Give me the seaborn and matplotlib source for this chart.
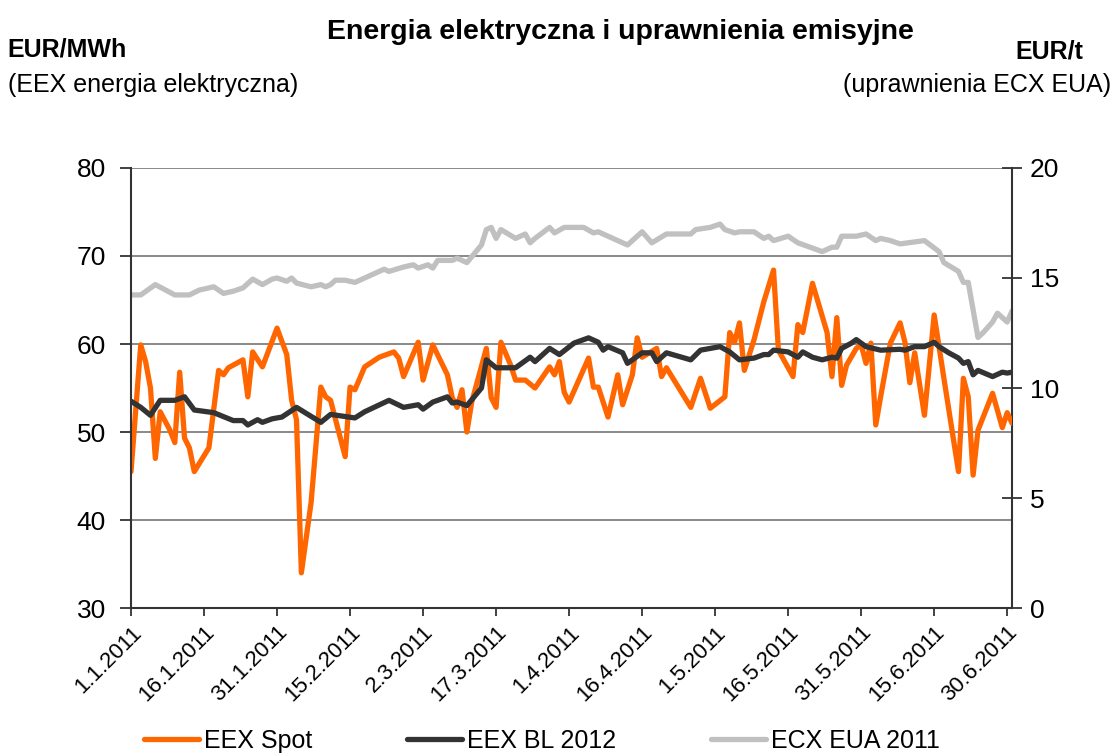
import matplotlib
matplotlib.use("Agg")
import matplotlib.pyplot as plt
import seaborn as sns
import pandas as pd

# EEX Spot (EUR/MWh, left axis)
spot_dates = ["2011-01-01", "2011-01-03", "2011-01-04", "2011-01-05", "2011-01-06", "2011-01-07",
              "2011-01-09", "2011-01-10", "2011-01-11", "2011-01-12", "2011-01-13", "2011-01-14",
              "2011-01-17", "2011-01-19", "2011-01-20", "2011-01-21", "2011-01-24", "2011-01-25",
              "2011-01-26", "2011-01-28", "2011-01-31", "2011-02-02", "2011-02-03", "2011-02-04",
              "2011-02-05", "2011-02-07", "2011-02-09", "2011-02-10", "2011-02-11", "2011-02-14",
              "2011-02-15", "2011-02-16", "2011-02-18", "2011-02-21", "2011-02-24", "2011-02-25",
              "2011-02-26", "2011-03-01", "2011-03-02", "2011-03-04", "2011-03-07", "2011-03-08",
              "2011-03-09", "2011-03-10", "2011-03-11", "2011-03-12", "2011-03-15", "2011-03-16",
              "2011-03-17", "2011-03-18", "2011-03-20", "2011-03-21", "2011-03-23", "2011-03-25",
              "2011-03-28", "2011-03-29", "2011-03-30", "2011-03-31", "2011-04-01", "2011-04-05",
              "2011-04-06", "2011-04-07", "2011-04-09", "2011-04-11", "2011-04-12", "2011-04-14",
              "2011-04-15", "2011-04-16", "2011-04-19", "2011-04-20", "2011-04-21", "2011-04-26",
              "2011-04-28", "2011-04-30", "2011-05-03", "2011-05-04", "2011-05-05", "2011-05-06",
              "2011-05-07", "2011-05-09", "2011-05-11", "2011-05-13", "2011-05-14", "2011-05-17",
              "2011-05-18", "2011-05-19", "2011-05-21", "2011-05-24", "2011-05-25", "2011-05-26",
              "2011-05-27", "2011-05-28", "2011-05-30", "2011-05-31", "2011-06-01", "2011-06-02",
              "2011-06-03", "2011-06-04", "2011-06-06", "2011-06-08", "2011-06-09", "2011-06-10",
              "2011-06-11", "2011-06-13", "2011-06-15", "2011-06-17", "2011-06-20", "2011-06-21",
              "2011-06-22", "2011-06-23", "2011-06-24", "2011-06-27", "2011-06-29", "2011-06-30",
              "2011-07-01"]
spot_values = [45.5, 59.9, 58.0, 55.0, 47.0, 52.3,
               50.2, 48.8, 56.8, 49.3, 48.2, 45.5,
               48.2, 57.0, 56.5, 57.3, 58.2, 54.0,
               59.1, 57.4, 61.8, 58.8, 53.6, 51.4,
               34.0, 42.0, 55.1, 54.0, 53.6, 47.2,
               55.1, 54.8, 57.4, 58.5, 59.1, 58.4,
               56.3, 60.2, 55.9, 59.9, 56.5, 53.9,
               52.8, 54.8, 50.0, 53.4, 59.5, 53.9,
               52.8, 60.2, 57.6, 55.9, 55.9, 55.0,
               57.4, 56.5, 58.0, 54.5, 53.4, 58.4,
               55.1, 55.1, 51.7, 56.5, 53.1, 56.5,
               60.7, 58.5, 59.5, 56.3, 57.3, 52.8,
               56.1, 52.7, 54.0, 61.3, 60.2, 62.4,
               57.0, 60.5, 64.8, 68.4, 59.3, 56.3,
               62.2, 61.3, 66.9, 61.3, 56.3, 63.0,
               55.3, 57.6, 59.5, 59.9, 57.8, 60.1,
               50.8, 54.0, 60.1, 62.4, 60.2, 55.6,
               59.0, 51.9, 63.3, 56.1, 45.5, 56.1,
               54.0, 45.1, 50.2, 54.4, 50.5, 52.2,
               51.0]

# EEX BL 2012 (EUR/MWh, left axis)
bl_dates = ["2011-01-01", "2011-01-03", "2011-01-05", "2011-01-07", "2011-01-10", "2011-01-12",
            "2011-01-14", "2011-01-18", "2011-01-22", "2011-01-24", "2011-01-25", "2011-01-27",
            "2011-01-28", "2011-01-30", "2011-02-01", "2011-02-04", "2011-02-09", "2011-02-11",
            "2011-02-16", "2011-02-18", "2011-02-23", "2011-02-26", "2011-03-01", "2011-03-02",
            "2011-03-04", "2011-03-07", "2011-03-08", "2011-03-09", "2011-03-11", "2011-03-14",
            "2011-03-15", "2011-03-17", "2011-03-21", "2011-03-24", "2011-03-25", "2011-03-28",
            "2011-03-30", "2011-04-02", "2011-04-05", "2011-04-07", "2011-04-08", "2011-04-09",
            "2011-04-12", "2011-04-13", "2011-04-16", "2011-04-18", "2011-04-19", "2011-04-21",
            "2011-04-26", "2011-04-28", "2011-05-02", "2011-05-04", "2011-05-06", "2011-05-09",
            "2011-05-11", "2011-05-12", "2011-05-13", "2011-05-16", "2011-05-18", "2011-05-19",
            "2011-05-21", "2011-05-23", "2011-05-25", "2011-05-26", "2011-05-27", "2011-05-29",
            "2011-05-30", "2011-06-01", "2011-06-04", "2011-06-08", "2011-06-09", "2011-06-11",
            "2011-06-13", "2011-06-15", "2011-06-16", "2011-06-18", "2011-06-20", "2011-06-21",
            "2011-06-22", "2011-06-23", "2011-06-24", "2011-06-27", "2011-06-29", "2011-06-30",
            "2011-07-01"]
bl_values = [53.5, 52.8, 51.9, 53.6, 53.6, 54.0,
             52.5, 52.2, 51.3, 51.3, 50.8, 51.4,
             51.1, 51.5, 51.7, 52.8, 51.1, 52.0,
             51.6, 52.3, 53.6, 52.8, 53.1, 52.6,
             53.4, 54.0, 53.3, 53.4, 53.0, 55.0,
             58.2, 57.3, 57.3, 58.5, 58.0, 59.5,
             58.8, 60.1, 60.7, 60.2, 59.3, 59.7,
             59.0, 57.8, 59.0, 59.0, 58.0, 59.0,
             58.2, 59.3, 59.7, 59.1, 58.2, 58.4,
             58.8, 58.8, 59.3, 59.1, 58.5, 59.1,
             58.5, 58.2, 58.5, 58.4, 59.5, 60.1,
             60.5, 59.7, 59.3, 59.4, 59.3, 59.7,
             59.7, 60.2, 59.7, 59.0, 58.4, 57.8,
             58.0, 56.5, 57.0, 56.3, 56.8, 56.7,
             56.8]

# ECX EUA 2011 (EUR/t, right axis)
eua_dates = ["2011-01-01", "2011-01-03", "2011-01-06", "2011-01-10", "2011-01-13", "2011-01-15",
             "2011-01-18", "2011-01-20", "2011-01-22", "2011-01-24", "2011-01-26", "2011-01-28",
             "2011-01-30", "2011-01-31", "2011-02-02", "2011-02-03", "2011-02-04", "2011-02-07",
             "2011-02-09", "2011-02-10", "2011-02-11", "2011-02-12", "2011-02-14", "2011-02-16",
             "2011-02-18", "2011-02-22", "2011-02-23", "2011-02-26", "2011-02-28", "2011-03-01",
             "2011-03-03", "2011-03-04", "2011-03-05", "2011-03-08", "2011-03-09", "2011-03-11",
             "2011-03-14", "2011-03-15", "2011-03-16", "2011-03-17", "2011-03-18", "2011-03-21",
             "2011-03-23", "2011-03-24", "2011-03-25", "2011-03-28", "2011-03-29", "2011-03-31",
             "2011-04-01", "2011-04-04", "2011-04-06", "2011-04-07", "2011-04-08", "2011-04-10",
             "2011-04-13", "2011-04-16", "2011-04-18", "2011-04-21", "2011-04-26", "2011-04-27",
             "2011-04-30", "2011-05-02", "2011-05-03", "2011-05-05", "2011-05-06", "2011-05-09",
             "2011-05-11", "2011-05-12", "2011-05-13", "2011-05-16", "2011-05-18", "2011-05-23",
             "2011-05-25", "2011-05-26", "2011-05-27", "2011-05-30", "2011-06-01", "2011-06-03",
             "2011-06-04", "2011-06-06", "2011-06-08", "2011-06-13", "2011-06-16", "2011-06-17",
             "2011-06-20", "2011-06-21", "2011-06-22", "2011-06-24", "2011-06-25", "2011-06-27",
             "2011-06-28", "2011-06-30", "2011-07-01"]
eua_values = [14.23, 14.23, 14.7, 14.23, 14.23, 14.45,
              14.6, 14.3, 14.4, 14.55, 14.95, 14.7,
              14.95, 15.0, 14.85, 15.0, 14.77, 14.6,
              14.7, 14.6, 14.7, 14.9, 14.9, 14.8,
              15.0, 15.4, 15.3, 15.5, 15.6, 15.45,
              15.6, 15.45, 15.8, 15.8, 15.9, 15.7,
              16.5, 17.2, 17.3, 16.8, 17.2, 16.8,
              17.0, 16.6, 16.8, 17.3, 17.05, 17.3,
              17.3, 17.3, 17.05, 17.1, 17.0, 16.8,
              16.5, 17.1, 16.6, 17.0, 17.0, 17.2,
              17.3, 17.45, 17.2, 17.05, 17.1, 17.1,
              16.8, 16.9, 16.7, 16.9, 16.6, 16.2,
              16.4, 16.4, 16.9, 16.9, 17.0, 16.7,
              16.8, 16.7, 16.55, 16.7, 16.2, 15.7,
              15.3, 14.8, 14.8, 12.3, 12.5, 13.0,
              13.4, 13.0, 13.5]

series_labels = ["EEX Spot", "EEX BL 2012", "ECX EUA 2011"]
series_colors = ["#FF6600", "#333333", "#C0C0C0"]
tick_dates = pd.date_range("2011-01-01", "2011-06-30", freq="15D")

sns.set_style("white")
plt.rcParams['font.family'] = ['Liberation Sans', 'DejaVu Sans']
plt.rcParams['text.color'] = 'black'
plt.rcParams['xtick.color'] = 'black'
plt.rcParams['ytick.color'] = 'black'

spot = pd.DataFrame({"data": pd.to_datetime(spot_dates), "wartosc": spot_values})
bl = pd.DataFrame({"data": pd.to_datetime(bl_dates), "wartosc": bl_values})
eua = pd.DataFrame({"data": pd.to_datetime(eua_dates), "wartosc": eua_values})

fig = plt.figure(figsize=(11.13, 7.54), dpi=100)
ax = fig.add_axes([0.1177, 0.1936, 0.7916, 0.5836])
ax2 = ax.twinx()

lw = 3.8
sns.lineplot(data=eua, x="data", y="wartosc", ax=ax2, color=series_colors[2], linewidth=lw,
             label=series_labels[2], legend=False)
sns.lineplot(data=bl, x="data", y="wartosc", ax=ax, color=series_colors[1], linewidth=lw,
             label=series_labels[1], legend=False, zorder=3)
sns.lineplot(data=spot, x="data", y="wartosc", ax=ax, color=series_colors[0], linewidth=lw,
             label=series_labels[0], legend=False, zorder=2)

# szara linia jest na ax2, ale ma byc pod pozostalymi
ax.set_zorder(ax2.get_zorder() + 1)
ax.patch.set_visible(False)

ax.set_xlim(pd.Timestamp("2011-01-01"), pd.Timestamp("2011-07-01"))
ax.set_ylim(30, 80)
ax2.set_ylim(0, 20)
ax.set_yticks([30, 40, 50, 60, 70, 80])
ax2.set_yticks([0, 5, 10, 15, 20])
ax.set_xticks(tick_dates)
ax.set_xticklabels([f"{d.day}.{d.month}.{d.year}" for d in tick_dates],
                   rotation=45, ha="right", rotation_mode="anchor")
ax.set_xlabel("")
ax.set_ylabel("")
ax2.set_ylabel("")

for y in [40, 50, 60, 70, 80]:
    ax2.axhline((y - 30) / 50 * 20, color="#808080", linewidth=1.3, zorder=0)

for a in (ax, ax2):
    a.spines["top"].set_visible(False)
    for s in ("left", "right", "bottom"):
        a.spines[s].set_color("#333333")
        a.spines[s].set_linewidth(1.5)
ax.spines["right"].set_visible(False)
ax2.spines["left"].set_visible(False)
ax2.spines["bottom"].set_visible(False)

ax.tick_params(axis="y", direction="out", length=8, width=1.3, color="#333333",
               labelsize=19, pad=10, left=True)
ax.tick_params(axis="x", direction="out", length=6, width=1.3, color="#333333",
               labelsize=16, pad=4, bottom=True)
ax2.tick_params(axis="y", direction="inout", length=14, width=1.3, color="#333333",
                labelsize=19, pad=6, right=True)

fig.text(0.557, 0.958, "Energia elektryczna i uprawnienia emisyjne", ha="center", va="center",
         fontsize=20.5, fontweight="bold")
fig.text(0.007, 0.934, "EUR/MWh", ha="left", va="center", fontsize=18, fontweight="bold")
fig.text(0.007, 0.887, "(EEX energia elektryczna)", ha="left", va="center", fontsize=18)
fig.text(0.912, 0.932, "EUR/t", ha="left", va="center", fontsize=18, fontweight="bold")
fig.text(0.998, 0.887, "(uprawnienia ECX EUA)", ha="right", va="center", fontsize=18)

h1, l1 = ax.get_legend_handles_labels()
h2, l2 = ax2.get_legend_handles_labels()
handles = {l: h for h, l in zip(h1 + h2, l1 + l2)}
fig.legend([handles[l] for l in series_labels], series_labels, loc="center",
           bbox_to_anchor=(0.487, 0.017), ncol=3, frameon=False, fontsize=18,
           handlelength=2.2, handletextpad=0.2, columnspacing=3.8)

fig.savefig("out.png", dpi=100)
